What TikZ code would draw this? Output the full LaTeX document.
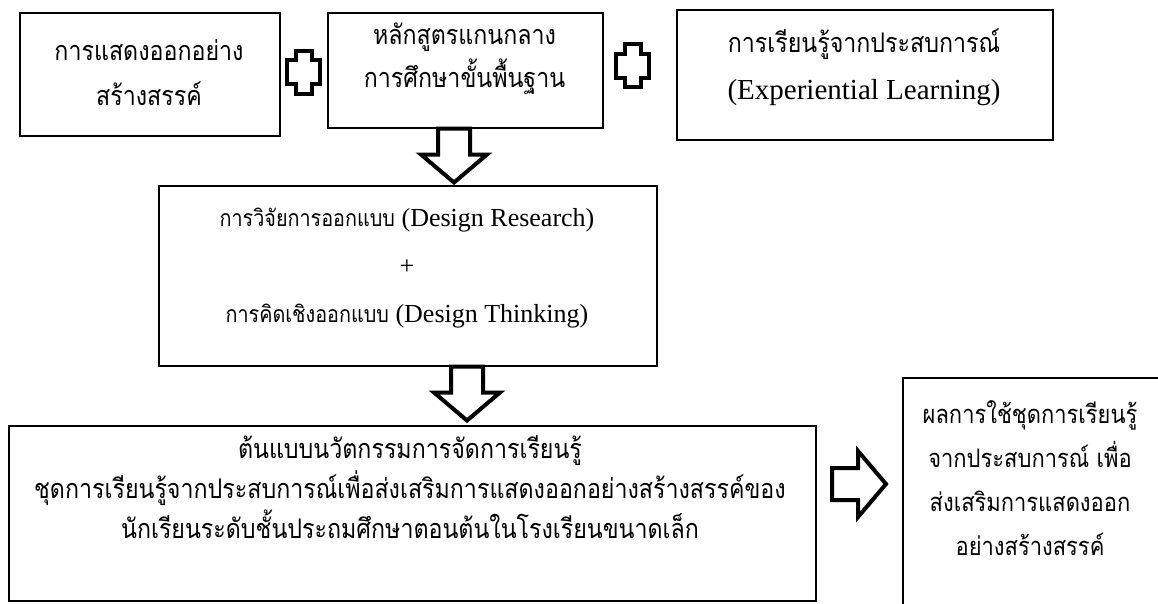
\documentclass[tikz,border=0pt]{standalone}
\usepackage{fontspec}
\setmainfont[Script=Thai, FakeStretch=0.86]{Loma}
\newfontfamily\enfont{Liberation Serif}
\newcommand{\en}[2][29]{{\enfont\fontsize{#1}{30}\selectfont #2}}
\usetikzlibrary{calc}

\tikzset{
  box/.style={draw, line width=1.5pt, inner sep=0pt, anchor=north west},
  txt/.style={align=center, inner sep=0pt},
  plussign/.pic={
    \draw[line width=4pt] (-8,-21.5) -- ++(16,0) -- ++(0,9.5) -- ++(8.5,0)
      -- ++(0,24) -- ++(-8.5,0) -- ++(0,9.5) -- ++(-16,0) -- ++(0,-9.5)
      -- ++(-8.5,0) -- ++(0,-24) -- ++(8.5,0) -- cycle;
  },
  fatarrow/.pic={
    \draw[line width=4pt, fill=white] (0,-16) -- (26,-16) -- (26,-33)
      -- (54,0) -- (26,33) -- (26,16) -- (0,16) -- cycle;
  }
}

\begin{document}
\begin{tikzpicture}[x=1pt, y=-1pt]
\useasboundingbox (0,0) rectangle (1158,603);
\clip (0,0) rectangle (1158,603);

% the three boxes on top
\node[box, minimum width=260pt, minimum height=123pt] (show) at (19,12) {};
\node[box, minimum width=275pt, minimum height=115pt] (core) at (327,12) {};
\node[box, minimum width=376pt, minimum height=130pt] (exper) at (676,9) {};

% middle and bottom boxes
\node[box, minimum width=498pt, minimum height=180pt] (design) at (158,185) {};
\node[box, minimum width=807pt, minimum height=175pt] (proto) at (8,425) {};
\node[box, minimum width=300pt, minimum height=280pt] (result) at (902,377) {};

% texts
\node[txt, font=\fontsize{27}{45}\selectfont] (show-t) at (149,73)
  {การแสดงออกอย่าง\\สร้างสรรค์};
\node[txt, font=\fontsize{27}{43}\selectfont] (core-t) at (464.5,59)
  {หลักสูตรแกนกลาง\\การศึกษาขั้นพื้นฐาน};
\node[txt, font=\fontsize{27}{47}\selectfont] (exper-t) at (864,67)
  {การเรียนรู้จากประสบการณ์\\\en{(Experiential Learning)}};
\node[txt, font=\fontsize{23}{48}\selectfont] (design-t) at (407,268)
  {การวิจัยการออกแบบ \en[26]{(Design Research)}\\\en[26]{+}\\การคิดเชิงออกแบบ \en[26]{(Design Thinking)}};
\node[txt, font=\fontsize{27}{40}\selectfont] (proto-t) at (410,487)
  {ต้นแบบนวัตกรรมการจัดการเรียนรู้\\ชุดการเรียนรู้จากประสบการณ์เพื่อส่งเสริมการแสดงออกอย่างสร้างสรรค์ของ\\นักเรียนระดับชั้นประถมศึกษาตอนต้นในโรงเรียนขนาดเล็ก};
\node[txt, font=\fontsize{25.5}{44}\selectfont] (result-t) at (1030,478)
  {ผลการใช้ชุดการเรียนรู้\\จากประสบการณ์ เพื่อ\\ส่งเสริมการแสดงออก\\อย่างสร้างสรรค์};

% plus signs between the top boxes
\pic at ($(show.east)!0.5!(core.west)$) {plussign};
\pic at (632.5,65.5) {plussign};

% block arrows
\pic[rotate=-90] at (core.south -| 454,0) {fatarrow};
\pic[rotate=-90] at (design.south -| 467,0) {fatarrow};
\pic at (832,484) {fatarrow};

\end{tikzpicture}
\end{document}
